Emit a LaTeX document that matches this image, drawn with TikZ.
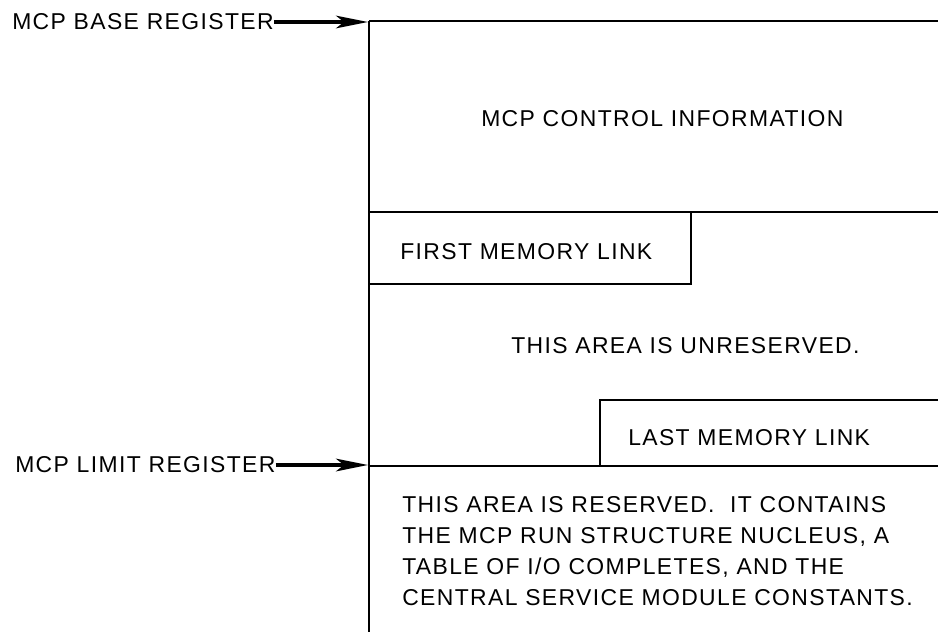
\documentclass[tikz,border=0pt]{standalone}
\usepackage{fontspec}
\setmainfont{Liberation Sans}[LetterSpace=6]
\usetikzlibrary{arrows.meta}
\tikzset{
  rule/.style={line width=1.5pt},
  lbl/.style={font=\fontsize{17.2pt}{23.25pt}\selectfont, inner sep=0pt},
  regarrow/.style={line width=2.4pt, -{Stealth[length=24pt,width=9.5pt,inset=6pt]}}
}
\begin{document}
\begin{tikzpicture}[x=0.75pt,y=-0.75pt]
\useasboundingbox (0,0) rectangle (938,632);
% memory map outline
\draw[rule] (369,21) -- (369,632);
\draw[rule] (369,21) -- (938,21);
\draw[rule] (369,212) -- (938,212);
\draw[rule] (369,284) -- (691,284) -- (691,212);
\draw[rule] (600,466) -- (600,400) -- (938,400);
\draw[rule] (369,466) -- (938,466);
% area labels
\node[lbl, anchor=west] (ctl) at (481,119) {MCP CONTROL INFORMATION};
\node[lbl, anchor=west] (fml) at (400,252) {FIRST MEMORY LINK};
\node[lbl, anchor=west] (unr) at (511,346) {THIS AREA IS UNRESERVED.};
\node[lbl, anchor=west] (lml) at (628,438) {LAST MEMORY LINK};
\node[lbl, anchor=north west, align=left] (res) at (402,496)
  {THIS AREA IS RESERVED.\ \ IT CONTAINS\\
   THE MCP RUN STRUCTURE NUCLEUS, A\\
   TABLE OF I/O COMPLETES, AND THE\\
   CENTRAL SERVICE MODULE CONSTANTS.};
% registers
\node[lbl, anchor=west] (base) at (12,22) {MCP BASE REGISTER};
\node[lbl, anchor=west] (limit) at (15,465) {MCP LIMIT REGISTER};
\coordinate (basept) at (368,22);
\coordinate (limitpt) at (368,465);
\draw[regarrow] (base.east) -- (basept);
\draw[regarrow] (limit.east) -- (limitpt);
\end{tikzpicture}
\end{document}
